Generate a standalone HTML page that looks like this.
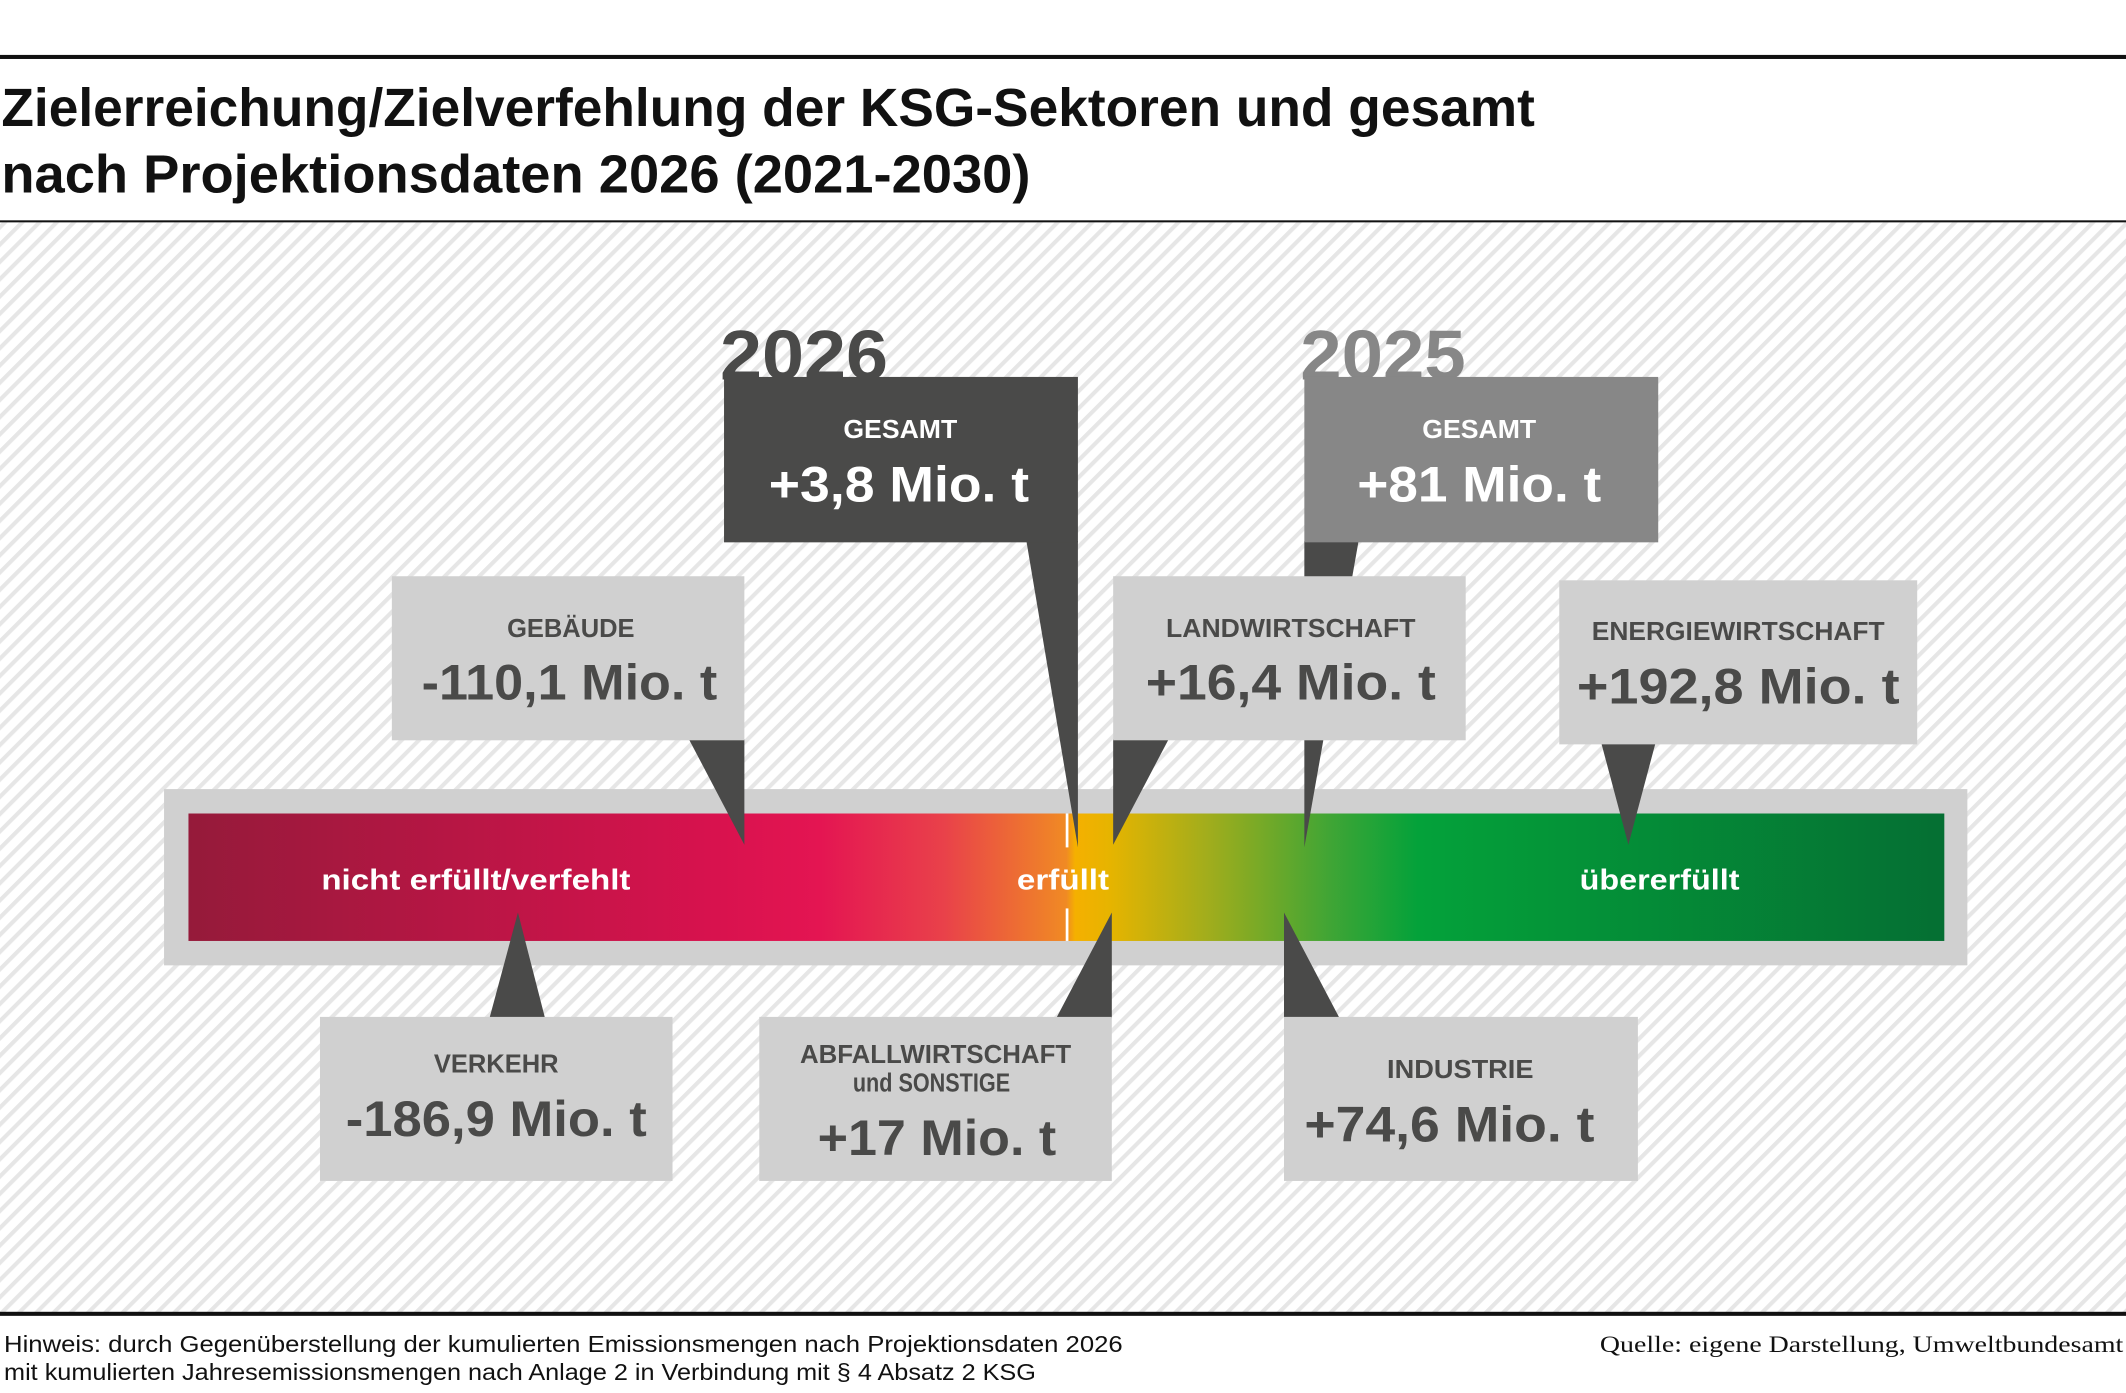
<!DOCTYPE html>
<html><head><meta charset="utf-8"><style>html,body{margin:0;padding:0;background:#fff}svg{display:block}</style></head><body>
<svg width="2126" height="1393" viewBox="0 0 1568 1027.4" preserveAspectRatio="none" xmlns="http://www.w3.org/2000/svg" font-family="Liberation Sans, sans-serif">
<defs>
<pattern id="h" width="9" height="9" patternUnits="userSpaceOnUse" patternTransform="rotate(45)">
<rect width="9" height="9" fill="#fff"/><rect width="3" height="9" fill="#e6e6e6"/></pattern>
<linearGradient id="g" x1="139" x2="1434" gradientUnits="userSpaceOnUse">
<stop offset="0" stop-color="#951a3a"/><stop offset="0.3" stop-color="#d8124e"/><stop offset="0.36" stop-color="#e41552"/><stop offset="0.43" stop-color="#e9414a"/><stop offset="0.5" stop-color="#f08a24"/><stop offset="0.5" stop-color="#f08a24"/><stop offset="0.505" stop-color="#f5b000"/><stop offset="0.525" stop-color="#e6b400"/><stop offset="0.58" stop-color="#a2ad1c"/><stop offset="0.65" stop-color="#40a535"/><stop offset="0.7" stop-color="#04a23a"/><stop offset="1" stop-color="#056f33"/></linearGradient>
</defs>
<rect x="0" y="164" width="1568" height="804" fill="url(#h)"/>
<rect x="0" y="40.5" width="1568" height="3" fill="#111"/>
<rect x="0" y="162.5" width="1568" height="1.5" fill="#111"/>
<rect x="0" y="967.5" width="1568" height="3" fill="#111"/>
<g font-weight="bold" fill="#111" font-size="40">
<text x="1" y="93" textLength="1131" lengthAdjust="spacingAndGlyphs">Zielerreichung/Zielverfehlung der KSG-Sektoren und gesamt</text>
<text x="1" y="142" textLength="759" lengthAdjust="spacingAndGlyphs">nach Projektionsdaten 2026 (2021-2030)</text>
</g>
<g fill="#111" font-size="17">
<text x="3" y="997" textLength="825" lengthAdjust="spacingAndGlyphs">Hinweis: durch Gegenüberstellung der kumulierten Emissionsmengen nach Projektionsdaten 2026</text>
<text x="3" y="1018" textLength="761" lengthAdjust="spacingAndGlyphs">mit kumulierten Jahresemissionsmengen nach Anlage 2 in Verbindung mit § 4 Absatz 2 KSG</text>
<text x="1566" y="997" text-anchor="end" font-family="Liberation Serif, serif" textLength="386" lengthAdjust="spacingAndGlyphs">Quelle: eigene Darstellung, Umweltbundesamt</text>
</g>
<rect x="121" y="582" width="1330" height="130" fill="#d0d0d0"/>
<rect x="139" y="600" width="1295" height="94" fill="url(#g)"/>
<rect x="786" y="600" width="2" height="25" fill="#fff"/><rect x="786" y="670" width="2" height="24" fill="#fff"/>
<g fill="#fff" font-weight="bold" font-size="21" text-anchor="middle">
<text x="351" y="656" textLength="228" lengthAdjust="spacingAndGlyphs">nicht erfüllt/verfehlt</text>
<text x="784" y="656" textLength="68" lengthAdjust="spacingAndGlyphs">erfüllt</text>
<text x="1224" y="656" textLength="118" lengthAdjust="spacingAndGlyphs">übererfüllt</text>
</g>
<g fill="#4a4a49">
<polygon points="757,399 795,399 795,625"/>
<polygon points="962,399 1002,399 962,625"/>
<polygon points="508,545 549,545 549,623"/>
<polygon points="821,545 862,545 821,623"/>
<polygon points="1181,548 1221,548 1201,623"/>
<polygon points="361,751 402,751 382,673"/>
<polygon points="779,751 820,751 820,673"/>
<polygon points="947,673 947,751 988,751"/>
</g>
<g font-weight="bold" font-size="52">
<text x="531" y="280" fill="#4a4a49" textLength="124" lengthAdjust="spacingAndGlyphs">2026</text>
<text x="959" y="280" fill="#878787" textLength="122" lengthAdjust="spacingAndGlyphs">2025</text>
</g>
<rect x="534" y="278" width="261" height="122" fill="#4a4a49"/>
<rect x="962" y="278" width="261" height="122" fill="#878787"/>
<rect x="289" y="425" width="260" height="121" fill="#d0d0d0"/>
<rect x="821" y="425" width="260" height="121" fill="#d0d0d0"/>
<rect x="1150" y="428" width="264" height="121" fill="#d0d0d0"/>
<rect x="236" y="750" width="260" height="121" fill="#d0d0d0"/>
<rect x="560" y="750" width="260" height="121" fill="#d0d0d0"/>
<rect x="947" y="750" width="261" height="121" fill="#d0d0d0"/>
<g font-weight="bold" text-anchor="middle" font-size="19">
<text x="664" y="323" fill="#fff" textLength="84" lengthAdjust="spacingAndGlyphs">GESAMT</text>
<text x="1091" y="323" fill="#fff" textLength="84" lengthAdjust="spacingAndGlyphs">GESAMT</text>
<g fill="#4a4a49">
<text x="421" y="470" textLength="94" lengthAdjust="spacingAndGlyphs">GEBÄUDE</text>
<text x="952" y="470" textLength="184" lengthAdjust="spacingAndGlyphs">LANDWIRTSCHAFT</text>
<text x="1282" y="472" textLength="216" lengthAdjust="spacingAndGlyphs">ENERGIEWIRTSCHAFT</text>
<text x="366" y="791" textLength="92" lengthAdjust="spacingAndGlyphs">VERKEHR</text>
<text x="690" y="784" textLength="200" lengthAdjust="spacingAndGlyphs">ABFALLWIRTSCHAFT</text>
<text x="687" y="805" textLength="116" lengthAdjust="spacingAndGlyphs">und SONSTIGE</text>
<text x="1077" y="795" textLength="108" lengthAdjust="spacingAndGlyphs">INDUSTRIE</text>
</g></g>
<g font-weight="bold" text-anchor="middle" font-size="37">
<text x="663" y="370" fill="#fff" textLength="192" lengthAdjust="spacingAndGlyphs">+3,8 Mio. t</text>
<text x="1091" y="370" fill="#fff" textLength="180" lengthAdjust="spacingAndGlyphs">+81 Mio. t</text>
<g fill="#4a4a49">
<text x="420" y="516" textLength="218" lengthAdjust="spacingAndGlyphs">-110,1 Mio. t</text>
<text x="952" y="516" textLength="214" lengthAdjust="spacingAndGlyphs">+16,4 Mio. t</text>
<text x="1282" y="519" textLength="238" lengthAdjust="spacingAndGlyphs">+192,8 Mio. t</text>
<text x="366" y="838" textLength="222" lengthAdjust="spacingAndGlyphs">-186,9 Mio. t</text>
<text x="691" y="852" textLength="176" lengthAdjust="spacingAndGlyphs">+17 Mio. t</text>
<text x="1069" y="842" textLength="214" lengthAdjust="spacingAndGlyphs">+74,6 Mio. t</text>
</g></g>
</svg>
</body></html>
